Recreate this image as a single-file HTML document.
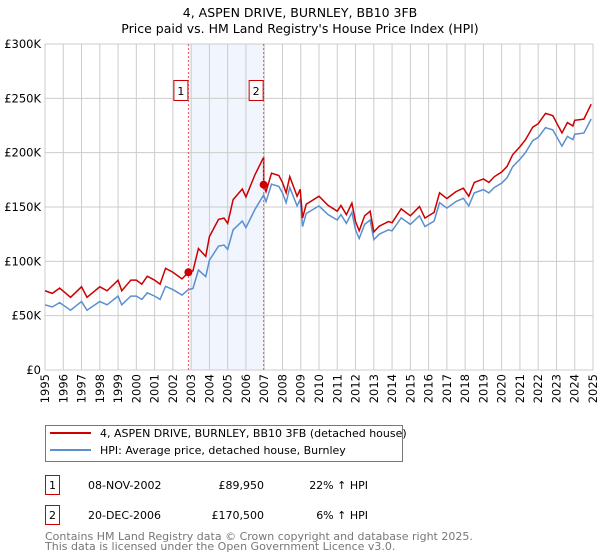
<!DOCTYPE html>
<html><head><meta charset="utf-8"><style>
body{margin:0;background:#fff;font-family:"DejaVu Sans","Liberation Sans",sans-serif;}
#wrap{position:relative;width:600px;height:560px;overflow:hidden}
svg{display:block;position:absolute;left:0;top:0}
.xl{position:absolute;top:374px;height:42px;width:14px;font-size:11.5px;line-height:14px;text-align:end;white-space:nowrap;writing-mode:vertical-rl;transform:rotate(180deg);color:#000}
@supports (writing-mode: sideways-lr){.xl{writing-mode:sideways-lr;transform:none}}
</style></head><body>
<div id="wrap">
<svg id="c" width="600" height="560" font-family="DejaVu Sans, Liberation Sans, sans-serif">
<text x="300" y="17" text-anchor="middle" font-size="12.5">4, ASPEN DRIVE, BURNLEY, BB10 3FB</text>
<text x="300" y="33" text-anchor="middle" font-size="12.5">Price paid vs. HM Land Registry's House Price Index (HPI)</text>
<g id="grid"></g>
<g id="marks"></g>
<g>
<rect x="45.5" y="425.5" width="357" height="36" fill="#fff" stroke="#777"/>
<line x1="50" y1="433" x2="91" y2="433" stroke="#cc0000" stroke-width="2"/>
<text x="100" y="437" font-size="11">4, ASPEN DRIVE, BURNLEY, BB10 3FB (detached house)</text>
<line x1="50" y1="450" x2="91" y2="450" stroke="#5b8fd0" stroke-width="2"/>
<text x="100" y="454" font-size="11">HPI: Average price, detached house, Burnley</text>
</g>
<g font-size="11">
<rect x="45.5" y="475.5" width="14" height="19" fill="#fff" stroke="#cc0000"/>
<text x="52.5" y="489" text-anchor="middle">1</text>
<text x="88" y="489">08-NOV-2002</text>
<text x="264" y="489" text-anchor="end">£89,950</text>
<text x="368" y="489" text-anchor="end">22% ↑ HPI</text>
<rect x="45.5" y="505.5" width="14" height="19" fill="#fff" stroke="#cc0000"/>
<text x="52.5" y="519" text-anchor="middle">2</text>
<text x="88" y="519">20-DEC-2006</text>
<text x="264" y="519" text-anchor="end">£170,500</text>
<text x="368" y="519" text-anchor="end">6% ↑ HPI</text>
</g>
<text x="45" y="540" font-size="11" fill="#777">Contains HM Land Registry data © Crown copyright and database right 2025.</text>
<text x="45" y="550" font-size="11" fill="#777">This data is licensed under the Open Government Licence v3.0.</text>
</svg>
</div>
<script>
const yTicks=[0,50,100,150,200,250,300];
const yTickLabels=["£0","£50K","£100K","£150K","£200K","£250K","£300K"];
const xYears=[1995,1996,1997,1998,1999,2000,2001,2002,2003,2004,2005,2006,2007,2008,2009,2010,2011,2012,2013,2014,2015,2016,2017,2018,2019,2020,2021,2022,2023,2024,2025];
const hpiT=[1995.0,1995.4,1995.8,1996.4,1997.0,1997.3,1998.0,1998.4,1999.0,1999.2,1999.7,2000.0,2000.3,2000.6,2001.0,2001.3,2001.6,2002.0,2002.5,2002.85,2003.1,2003.4,2003.8,2004.0,2004.5,2004.8,2005.0,2005.3,2005.8,2006.0,2006.5,2006.97,2007.1,2007.4,2007.8,2008.0,2008.2,2008.4,2008.8,2008.97,2009.1,2009.3,2010.0,2010.5,2011.0,2011.2,2011.5,2011.8,2012.0,2012.2,2012.5,2012.8,2013.0,2013.3,2013.8,2014.0,2014.5,2015.0,2015.5,2015.8,2016.3,2016.6,2017.0,2017.5,2017.9,2018.2,2018.5,2019.0,2019.3,2019.6,2020.0,2020.3,2020.6,2021.0,2021.3,2021.7,2022.0,2022.4,2022.8,2023.0,2023.3,2023.6,2023.9,2024.0,2024.5,2024.9];
const hpiV=[60,58,62,55,63,55,63,60,68,60,68,68,65,71,68,65,77,74,69,74,75,92,86,101,114,115,111,129,137,131,148,161,155,171,169,163,154,168,151,157,132,144,151,143,138,143,135,145,129,121,134,138,120,125,129,128,140,134,142,132,137,154,149,155,158,151,163,166,163,168,172,177,187,194,200,211,214,223,221,215,206,215,212,217,218,231];
const saleT=[2002.85,2006.97];
const saleV=[89.95,170.5];
const saleLabels=["1","2"];
const X0=45,X1=593,Y0=370,Y1=44;
const sx=t=>X0+(t-1995)/30*(X1-X0);
const sy=v=>Y0-v/300*(Y0-Y1);
const NS="http://www.w3.org/2000/svg";
function mk(tag,attrs,parent){const e=document.createElementNS(NS,tag);for(const k in attrs)e.setAttribute(k,attrs[k]);parent.appendChild(e);return e;}
const grid=document.getElementById('grid'),marks=document.getElementById('marks'),wrap=document.getElementById('wrap');
function hpiAt(t){for(let i=0;i<hpiT.length-1;i++){if(t>=hpiT[i]&&t<=hpiT[i+1]){return hpiV[i]+(hpiV[i+1]-hpiV[i])*(t-hpiT[i])/(hpiT[i+1]-hpiT[i]);}}return hpiV[hpiV.length-1];}
let band=mk('rect',{x:sx(saleT[0]),y:Y1,width:sx(saleT[1])-sx(saleT[0]),height:Y0-Y1,fill:'#eef3fc',opacity:0.8},grid);


yTicks.forEach((v,i)=>{
 let l=mk('line',{x1:X0,x2:X1,y1:sy(v),y2:sy(v),stroke:'#ccc','stroke-width':1},grid);
 
 
 let t=mk('text',{x:X0-4,y:sy(v)+4,'text-anchor':'end','font-size':11.5},grid);
 t.textContent=yTickLabels[i];
 
 
});
xYears.forEach(y=>{
 let l=mk('line',{x1:sx(y),x2:sx(y),y1:Y1,y2:Y0,stroke:'#ccc','stroke-width':1},grid);
 
 
 const d=document.createElement('div');
 d.className='xl';
 d.style.left=(sx(y)-7)+'px';
 d.textContent=String(y);
 
 
 wrap.appendChild(d);
});
let hp=mk('polyline',{points:hpiT.map((t,i)=>sx(t)+','+sy(hpiV[i])).join(' '),fill:'none',stroke:'#5b8fd0','stroke-width':1.5},marks);


const f1=saleV[0]/hpiAt(saleT[0]), f2=saleV[1]/hpiAt(saleT[1]);
let pts=[];
hpiT.forEach((t,i)=>{
 if(Math.abs(t-saleT[1])<1e-6){pts.push([t,hpiV[i]*f1]);pts.push([t,hpiV[i]*f2]);}
 else pts.push([t,hpiV[i]*(t<saleT[1]?f1:f2)]);
});
let pr=mk('polyline',{points:pts.map(p=>sx(p[0])+','+sy(p[1])).join(' '),fill:'none',stroke:'#cc0000','stroke-width':1.5},marks);


saleT.forEach((t,i)=>{
 let vl=mk('line',{x1:sx(t),x2:sx(t),y1:Y1,y2:Y0,stroke:'#ee5555','stroke-width':1,'stroke-dasharray':'2,2'},marks);
 
 
 let c=mk('circle',{cx:sx(t),cy:sy(saleV[i]),r:4,fill:'#cc0000'},marks);
 
 
 let b=mk('rect',{x:sx(t)-14.5,y:80.5,width:14,height:20,fill:'#fff',stroke:'#cc0000'},marks);
 
 
 let tx=mk('text',{x:sx(t)-7.5,y:95,'text-anchor':'middle','font-size':11},marks);
 tx.textContent=saleLabels[i];
 
 
});
</script>
</body></html>
